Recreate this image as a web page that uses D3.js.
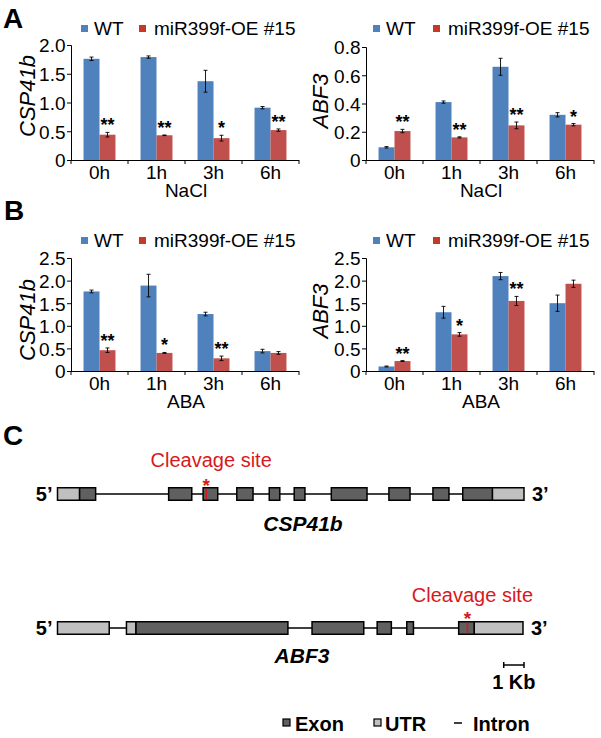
<!DOCTYPE html>
<html><head><meta charset="utf-8">
<script src="https://cdn.jsdelivr.net/npm/d3@7"></script>
<style>body{margin:0;background:#fff} svg{display:block} text{font-family:"Liberation Sans",Arial,sans-serif}</style>
</head><body><svg id="c" width="601" height="738"></svg>
<script>
// ---------- data ----------
const categories = ["0h","1h","3h","6h"];
const seriesNames = ["WT","miR399f-OE #15"];
// Panel A (NaCl)
const naclCSP41bWT    = [1.76,1.79,1.37,0.91];
const naclCSP41bWTErr = [0.03,0.02,0.19,0.02];
const naclCSP41bOE    = [0.44,0.43,0.38,0.52];
const naclCSP41bOEErr = [0.04,0.005,0.05,0.02];
const naclCSP41bSig   = ["**","**","*","**"];
const naclABF3WT      = [0.09,0.41,0.66,0.32];
const naclABF3WTErr   = [0.005,0.008,0.06,0.015];
const naclABF3OE      = [0.205,0.16,0.245,0.25];
const naclABF3OEErr   = [0.012,0.004,0.024,0.008];
const naclABF3Sig     = ["**","**","**","*"];
// Panel B (ABA)
const abaCSP41bWT     = [1.76,1.89,1.26,0.44];
const abaCSP41bWTErr  = [0.03,0.25,0.04,0.04];
const abaCSP41bOE     = [0.46,0.40,0.28,0.40];
const abaCSP41bOEErr  = [0.05,0.01,0.05,0.03];
const abaCSP41bSig    = ["**","*","**",""];
const abaABF3WT       = [0.10,1.30,2.10,1.50];
const abaABF3WTErr    = [0.01,0.13,0.08,0.18];
const abaABF3OE       = [0.22,0.81,1.55,1.93];
const abaABF3OEErr    = [0.01,0.04,0.10,0.08];
const abaABF3Sig      = ["**","*","**",""];
// tick values
const ticksCSP41bNaCl = [0,0.5,1.0,1.5,2.0];
const ticksABF3NaCl   = [0,0.2,0.4,0.6,0.8];
const ticksABA        = [0,0.5,1.0,1.5,2.0,2.5];
// Panel C gene models (kb from transcription start)
const csp41bUTR   = [[0,1.09],[21.44,23.0]];
const csp41bExons = [[1.09,1.88],[5.48,6.62],[7.18,7.90],[8.84,9.64],[10.44,10.96],[11.67,12.20],[13.50,15.26],[16.34,17.38],[18.51,19.30],[19.98,21.44]];
const csp41bCleave = 7.33;
const abf3UTR     = [[0,2.55],[3.40,3.87],[20.54,22.95]];
const abf3Exons   = [[3.87,11.36],[12.55,15.10],[15.76,16.46],[17.22,17.55],[19.78,20.54]];
const abf3Cleave  = 20.21;
const scaleBarKb  = [22,23];

// ---------- style ----------
const BLUE="#4F81BD", RED="#C0504D", REDLEG="#C43A26";
const FS=19;
const svg=d3.select("#c");

function stext(g,x,y,txt,o={}){
  return g.append("text")
    .attr("transform",`translate(${x},${y})${o.rot?` rotate(${o.rot})`:""}`)
    .attr("text-anchor",o.anchor||"start")
    .style("font-size",(o.size||FS)+"px")
    .style("font-weight",o.bold?"bold":"normal")
    .style("font-style",o.italic?"italic":"normal")
    .attr("fill",o.fill||"#000")
    .text(txt);
}

function barChart(o){
  const g=svg.append("g");
  const x0=d3.scaleBand().domain(categories).range([o.left,o.right]).paddingInner(0.44).paddingOuter(0.22);
  const x1=d3.scaleBand().domain(seriesNames).range([0,x0.bandwidth()]);
  const y=d3.scaleLinear().domain([0,o.yMax]).range([o.bottom,o.top]);
  const series=[{name:seriesNames[0],v:o.wt,e:o.wtErr,c:BLUE},{name:seriesNames[1],v:o.oe,e:o.oeErr,c:RED}];
  series.forEach(s=>{
    g.selectAll(null).data(categories).enter().append("rect")
      .attr("x",d=>x0(d)+x1(s.name)).attr("width",x1.bandwidth())
      .attr("y",(d,i)=>y(s.v[i])).attr("height",(d,i)=>y(0)-y(s.v[i]))
      .attr("fill",s.c);
    const eb=g.selectAll(null).data(categories).enter().append("g")
      .attr("transform",d=>`translate(${x0(d)+x1(s.name)+x1.bandwidth()/2},0)`);
    eb.append("line").attr("y1",(d,i)=>y(s.v[i]+s.e[i])).attr("y2",(d,i)=>y(s.v[i]-s.e[i])).attr("stroke","#000").attr("stroke-width",0.9);
    eb.append("line").attr("x1",-2).attr("x2",2).attr("y1",(d,i)=>y(s.v[i]+s.e[i])).attr("y2",(d,i)=>y(s.v[i]+s.e[i])).attr("stroke","#000").attr("stroke-width",0.9);
    eb.append("line").attr("x1",-2).attr("x2",2).attr("y1",(d,i)=>y(s.v[i]-s.e[i])).attr("y2",(d,i)=>y(s.v[i]-s.e[i])).attr("stroke","#000").attr("stroke-width",0.9);
  });
  // significance
  categories.forEach((c,i)=>{
    if(!o.sig[i]) return;
    const cx=x0(c)+x1(seriesNames[1])+x1.bandwidth()/2;
    stext(g,cx,y(o.oe[i]+o.oeErr[i])-1,o.sig[i],{anchor:"middle",size:18,bold:true});
  });
  // y axis
  const ya=g.append("g").attr("transform",`translate(${o.left},0)`)
    .call(d3.axisLeft(y).tickValues(o.yTicks).tickSize(4).tickPadding(1.5).tickFormat(d=>d===0?"0":d.toFixed(1)));
  ya.select(".domain").attr("stroke","#000");
  ya.selectAll(".tick line").attr("stroke","#000");
  ya.selectAll("text").attr("font-family",null).attr("font-size",null).attr("dy","0.36em")
    .style("font-size",FS+"px").attr("fill","#000");
  // x axis
  const boundaries=categories.map(c=>x0(c)-x0.step()*x0.paddingInner()/2).concat([o.right]);
  g.append("line").attr("x1",o.left).attr("x2",o.right).attr("y1",o.bottom+0.5).attr("y2",o.bottom+0.5).attr("stroke","#000");
  g.selectAll(null).data(boundaries).enter().append("line")
    .attr("x1",d=>d).attr("x2",d=>d).attr("y1",o.bottom).attr("y2",o.bottom+4).attr("stroke","#000");
  categories.forEach(c=>stext(g,x0(c)+x0.bandwidth()/2,o.bottom+19,c,{anchor:"middle"}));
  stext(g,(o.left+o.right)/2+1,o.bottom+37,o.xtitle,{anchor:"middle"});
  // y label
  stext(g,o.ylab[0],o.ylab[1],o.ylabel,{anchor:"middle",size:22,italic:true,rot:-90});
  // legend
  const ly=o.legendY;
  g.append("rect").attr("x",o.legX[0]).attr("y",ly-10).attr("width",7).attr("height",7).attr("fill",BLUE);
  stext(g,o.legX[1],ly,seriesNames[0]);
  g.append("rect").attr("x",o.legX[2]).attr("y",ly-10).attr("width",7).attr("height",7).attr("fill",REDLEG);
  stext(g,o.legX[3],ly,seriesNames[1]);
}

barChart({left:71,right:299,top:45,bottom:160,yMax:2.0,yTicks:ticksCSP41bNaCl,wt:naclCSP41bWT,wtErr:naclCSP41bWTErr,oe:naclCSP41bOE,oeErr:naclCSP41bOEErr,sig:naclCSP41bSig,ylabel:"CSP41b",ylab:[35,96],xtitle:"NaCl",legendY:35,legX:[81,94,139,154]});
barChart({left:366,right:594,top:47,bottom:160,yMax:0.8,yTicks:ticksABF3NaCl,wt:naclABF3WT,wtErr:naclABF3WTErr,oe:naclABF3OE,oeErr:naclABF3OEErr,sig:naclABF3Sig,ylabel:"ABF3",ylab:[328,101],xtitle:"NaCl",legendY:35,legX:[373,386,433,448]});
barChart({left:71,right:299,top:258,bottom:371,yMax:2.5,yTicks:ticksABA,wt:abaCSP41bWT,wtErr:abaCSP41bWTErr,oe:abaCSP41bOE,oeErr:abaCSP41bOEErr,sig:abaCSP41bSig,ylabel:"CSP41b",ylab:[35,320],xtitle:"ABA",legendY:247,legX:[81,94,139,154]});
barChart({left:366,right:594,top:258,bottom:371,yMax:2.5,yTicks:ticksABA,wt:abaABF3WT,wtErr:abaABF3WTErr,oe:abaABF3OE,oeErr:abaABF3OEErr,sig:abaABF3Sig,ylabel:"ABF3",ylab:[328,311],xtitle:"ABA",legendY:247,legX:[373,386,433,448]});

// panel letters
stext(svg,3,28,"A",{size:28,bold:true});
stext(svg,4,220,"B",{size:28,bold:true});
stext(svg,3,445,"C",{size:28,bold:true});

// ---------- panel C ----------
const gx=d3.scaleLinear().domain([0,23]).range([57.5,524]);
const EXON="#606060", UTRC="#C0C0C0", CLEAVE="#D7191C";
function gene(o){
  const g=svg.append("g");
  const all=o.utr.concat(o.exons);
  const lo=d3.min(all,d=>d[0]), hi=d3.max(all,d=>d[1]);
  g.append("line").attr("x1",gx(lo)).attr("x2",gx(hi)).attr("y1",o.y).attr("y2",o.y).attr("stroke","#000").attr("stroke-width",1.6);
  const h=o.h;
  g.selectAll(null).data(o.utr).enter().append("rect")
    .attr("x",d=>gx(d[0])).attr("width",d=>gx(d[1])-gx(d[0])).attr("y",o.y-h/2).attr("height",h)
    .attr("fill",UTRC).attr("stroke","#000").attr("stroke-width",1.5);
  g.selectAll(null).data(o.exons).enter().append("rect")
    .attr("x",d=>gx(d[0])).attr("width",d=>gx(d[1])-gx(d[0])).attr("y",o.y-h/2).attr("height",h)
    .attr("fill",EXON).attr("stroke","#000").attr("stroke-width",1.5);
  g.append("line").attr("x1",gx(o.cleave)).attr("x2",gx(o.cleave)).attr("y1",o.y-h/2+1).attr("y2",o.y+h/2-1).attr("stroke",CLEAVE).attr("stroke-width",1.6);
  stext(g,gx(o.cleave),o.y-h/2+o.sdy,"*",{anchor:"middle",size:19,bold:true,fill:CLEAVE});
  stext(g,gx(o.cleave)+o.cdx,o.cy,"Cleavage site",{anchor:"middle",size:20,fill:CLEAVE});
  stext(g,gx(lo)-5,o.y+7,"5\u2019",{anchor:"end",size:20,bold:true});
  stext(g,gx(hi)+8,o.y+7,"3\u2019",{anchor:"start",size:20,bold:true});
  stext(g,o.nx,o.ny,o.name,{anchor:"middle",size:21,bold:true,italic:true});
}
gene({y:494,h:12.5,utr:csp41bUTR,exons:csp41bExons,cleave:csp41bCleave,sdy:4,cdx:5,cy:467,name:"CSP41b",nx:303,ny:531});
gene({y:628,h:12.5,utr:abf3UTR,exons:abf3Exons,cleave:abf3Cleave,sdy:3,cdx:5,cy:602,name:"ABF3",nx:302,ny:663});
// scale bar
const sb=svg.append("g");
const sbY=665;
sb.append("line").attr("x1",gx(scaleBarKb[0])).attr("x2",gx(scaleBarKb[1])).attr("y1",sbY).attr("y2",sbY).attr("stroke","#000").attr("stroke-width",1.5);
sb.selectAll(null).data(scaleBarKb).enter().append("line").attr("x1",d=>gx(d)).attr("x2",d=>gx(d)).attr("y1",sbY-3).attr("y2",sbY+3).attr("stroke","#000").attr("stroke-width",1.5);
stext(sb,(gx(scaleBarKb[0])+gx(scaleBarKb[1]))/2,689,"1 Kb",{anchor:"middle",size:20,bold:true});
// legend
const lg=svg.append("g"), lgY=731;
lg.append("rect").attr("x",283).attr("y",lgY-12).attr("width",7).attr("height",7).attr("fill",EXON).attr("stroke","#000").attr("stroke-width",1.2);
stext(lg,295,lgY,"Exon",{size:20,bold:true});
lg.append("rect").attr("x",374).attr("y",lgY-12).attr("width",7).attr("height",7).attr("fill",UTRC).attr("stroke","#000").attr("stroke-width",1.2);
stext(lg,385,lgY,"UTR",{size:20,bold:true});
lg.append("line").attr("x1",454).attr("x2",462).attr("y1",lgY-8).attr("y2",lgY-8).attr("stroke","#000").attr("stroke-width",1.5);
stext(lg,473,lgY,"Intron",{size:20,bold:true});
</script></body></html>
